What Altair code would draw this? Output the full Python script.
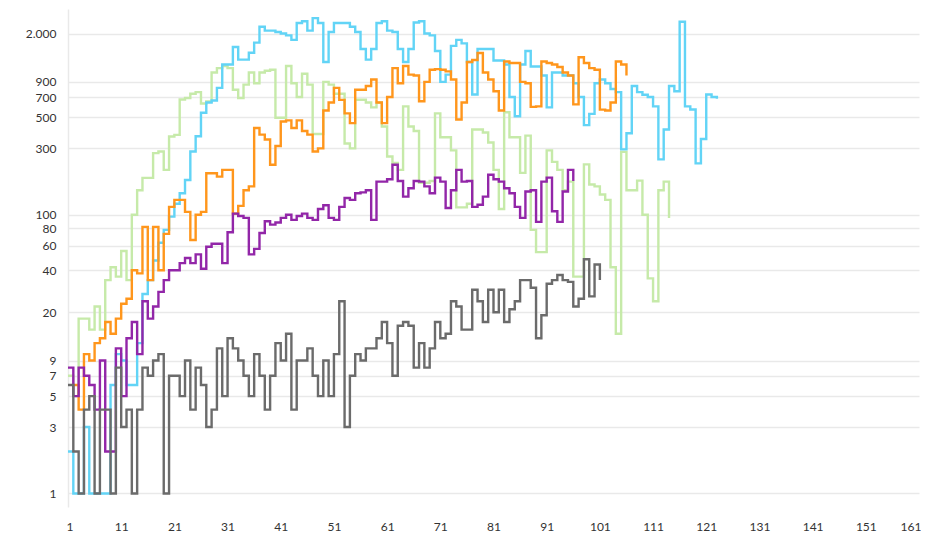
import altair as alt
import pandas as pd

# ---- data ----
x_ticks = [1, 11, 21, 31, 41, 51, 61, 71, 81, 91, 101, 111, 121, 131, 141, 151, 161]
y_ticks = [1, 3, 5, 7, 9, 20, 40, 60, 80, 100, 300, 500, 700, 900, 2000]

green_start = 1
green = [7, 5, 18, 18, 15, 22, 15, 34, 42, 36, 55, 34, 100, 150, 184, 184, 277, 285, 210, 365,
         375, 672, 690, 740, 760, 630, 650, 1050, 1130, 1170, 1130, 790, 690, 860, 1050, 880, 1050, 1080, 1100, 497,
         497, 1170, 880, 700, 1030, 860, 380, 380, 900, 860, 740, 740, 325, 300, 670, 670, 640, 590, 640, 430,
         262, 236, 210, 600, 430, 400, 170, 170, 175, 535, 360, 360, 290, 113, 113, 120, 410, 410, 390, 330,
         210, 110, 545, 360, 360, 200, 370, 78, 54, 54, 290, 240, 210, 150, 173, 36, 36, 230, 165, 160,
         140, 128, 42, 14, 283, 150, 150, 176, 100, 35, 24, 150, 173, 95]

cyan_start = 1
cyan = [2, 1, 1, 3, 1, 1, 1, 1, 6, 10, 9, 6, 6, 12, 27, 34, 47, 63, 78, 97,
        120, 143, 178, 285, 366, 540, 640, 662, 815, 1200, 1200, 1600, 1300, 1300, 1455, 1720, 2240, 2100, 2100, 2050,
        2000, 1940, 1800, 2380, 2450, 2100, 2580, 2380, 1250, 2050, 2380, 2380, 2380, 2240, 2050, 1550, 1300, 1550, 2380, 2450,
        2100, 2050, 1550, 1250, 1550, 2400, 2450, 2000, 1940, 1500, 900, 1015, 1630, 1800, 1700, 1250, 730, 1550, 1550, 1550,
        1280, 1280, 1200, 700, 510, 1200, 1500, 1160, 1160, 1000, 590, 1050, 1050, 1000, 1000, 880, 700, 440, 530, 880,
        935, 880, 800, 760, 295, 385, 840, 760, 727, 700, 600, 250, 410, 840, 770, 2430, 600, 570, 234, 350,
        730, 700, 680]

orange_start = 2
orange = [6, 4, 10, 9, 12, 13, 17, 14, 18, 23, 25, 40, 38, 82, 34, 82, 40, 73, 114,
          128, 128, 105, 66, 100, 105, 199, 199, 188, 210, 210, 102, 116, 150, 160, 420, 376, 347, 229, 312,
          467, 476, 420, 476, 400, 376, 285, 300, 560, 640, 815, 668, 535, 455, 790, 790, 840, 935, 640, 455,
          700, 1130, 880, 1170, 1015, 1000, 654, 900, 1100, 1110, 1100, 1070, 935, 483, 640, 1250, 1290, 1450, 1050, 935,
          770, 560, 1260, 1230, 1230, 900, 880, 595, 600, 1260, 1230, 1200, 1150, 1050, 1000, 620, 1350, 1230, 1130, 1100,
          569, 560, 640, 1260, 1200, 1000]

purple_start = 1
purple = [8, 5, 8, 7, 6, 4, 9, 2, 2, 11, 5, 13, 17, 10, 24, 18, 22, 28, 34, 40,
          40, 45, 49, 45, 52, 41, 59, 62, 62, 45, 75, 102, 98, 95, 52, 57, 74, 90, 85, 88,
          95, 100, 92, 98, 102, 95, 92, 110, 117, 95, 92, 114, 132, 128, 143, 145, 150, 92, 173, 173,
          180, 229, 175, 135, 155, 175, 173, 160, 143, 185, 173, 112, 150, 210, 173, 175, 114, 118, 135, 194,
          180, 173, 155, 143, 114, 95, 147, 150, 89, 173, 185, 106, 89, 147, 210, 175]

gray_start = 1
gray = [6, 2, 1, 4, 5, 1, 4, 4, 1, 8, 3, 4, 1, 4, 8, 7, 9, 10, 1, 7,
        7, 5, 9, 4, 8, 6, 3, 4, 11, 5, 13, 11, 9, 7, 5, 10, 7, 4, 7, 12,
        9, 14, 4, 9, 9, 11, 7, 5, 9, 5, 10, 24, 3, 7, 10, 9, 11, 11, 13, 17,
        12, 7, 16, 17, 16, 8, 12, 8, 11, 17, 13, 14, 24, 22, 15, 15, 29, 24, 17, 29,
        20, 29, 17, 21, 24, 34, 34, 30, 13, 19, 32, 34, 37, 34, 33, 22, 25, 48, 26, 44,
        34]

series = [
    ("green", green_start, green, "#c6eaa9"),
    ("cyan", cyan_start, cyan, "#62d4f6"),
    ("orange", orange_start, orange, "#ff961c"),
    ("purple", purple_start, purple, "#9226a8"),
    ("gray", gray_start, gray, "#6b6b6b"),
]

rows = []
for name, start, vals, _ in series:
    for k, v in enumerate(vals):
        rows.append({"series": name, "x": start + k, "y": v})
df = pd.DataFrame(rows)

FONT = "Lato"

xscale = alt.Scale(domain=[1, 161], nice=False, zero=False)
yscale = alt.Scale(type="log", domain=[0.8, 3000], nice=False)

xaxis = alt.Axis(values=x_ticks, grid=False, domain=False, ticks=False, title=None,
                 labelPadding=14, labelFontSize=12, labelColor="#333333", labelFont=FONT,
                 labelFlush=True, labelFlushOffset=2, labelOverlap=False)
yaxis = alt.Axis(values=y_ticks, grid=True, gridColor="#e9e9e9", gridWidth=1.5,
                 domain=True, domainColor="#e9e9e9", domainWidth=1.5, ticks=False, title=None,
                 labelPadding=12, labelFontSize=12, labelColor="#333333", labelFont=FONT,
                 labelOverlap=False,
                 labelExpr="datum.value >= 1000 ? replace(format(datum.value, ','), ',', '.') : format(datum.value, 'd')")

layers = []
for name, start, vals, col in series:
    layers.append(
        alt.Chart(df).transform_filter(alt.datum.series == name)
        .mark_line(interpolate="step-after", strokeWidth=2.4, color=col, clip=True)
        .encode(
            x=alt.X("x:Q", scale=xscale, axis=xaxis),
            y=alt.Y("y:Q", scale=yscale, axis=yaxis),
        )
    )

chart = alt.layer(*layers).properties(
    width=851, height=498,
    background="white",
    autosize=alt.AutoSizeParams(type="none"),
    padding={"left": 60, "top": 1, "right": 2, "bottom": 27},
).configure_view(stroke=None)

chart.save("out.html", embed_options={"renderer": "svg", "actions": False})
